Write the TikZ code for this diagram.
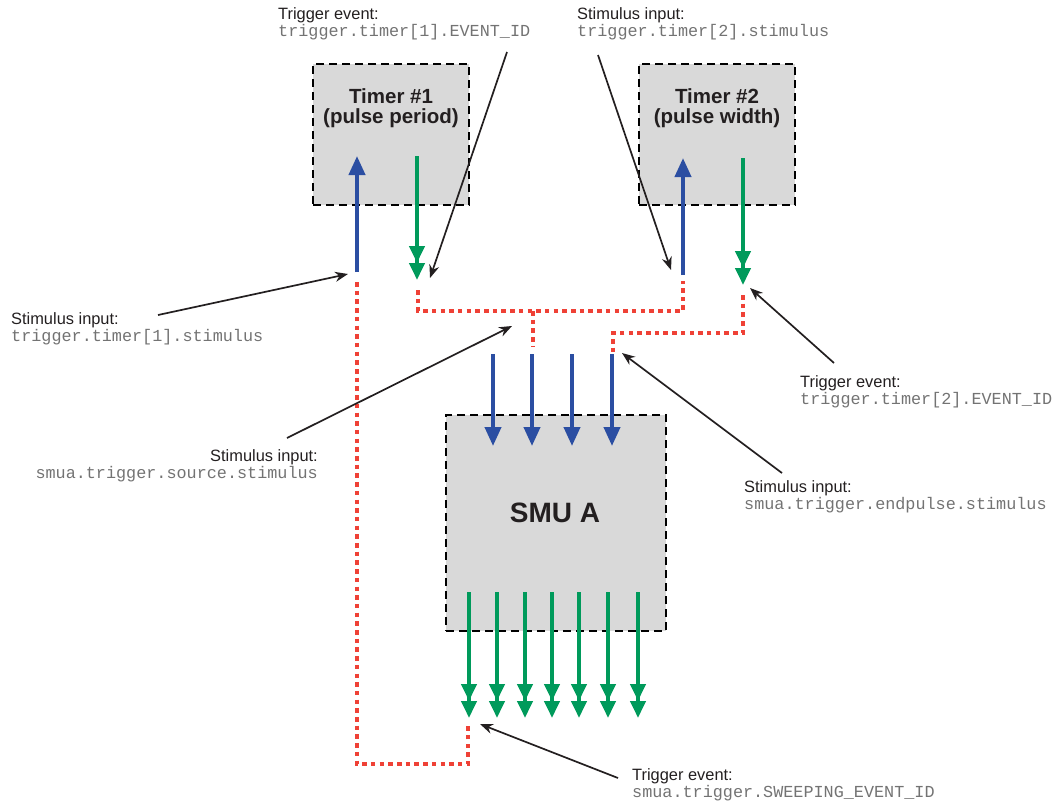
\documentclass[tikz,border=0pt]{standalone}
\usepackage{fontspec}
\setmainfont{Liberation Sans}
\setmonofont{Liberation Mono}
\usetikzlibrary{arrows.meta}
\definecolor{tblue}{HTML}{2B4EA2}
\definecolor{tgreen}{HTML}{009A5B}
\definecolor{tred}{HTML}{EF4136}
\definecolor{tgray}{HTML}{D9D9D9}
\definecolor{ttext}{HTML}{231F20}
\definecolor{tmono}{HTML}{737373}
\newcommand\monolbl[1]{{\fontsize{16.8}{15.5}\ttfamily\color{tmono}#1}}
\begin{document}
\begin{tikzpicture}[x=1pt,y=-1pt,
  box/.style={draw=black, fill=tgray, dash pattern=on 8pt off 5pt, line width=2pt, inner sep=0pt, anchor=north west},
  bluearr/.style={draw=tblue, line width=4pt, -{Triangle[width=16pt,length=19pt]}},
  greenarr/.style={draw=tgreen, line width=4pt, -{Triangle[width=15pt,length=17pt]Triangle[width=15pt,length=17pt]}},
  reddot/.style={draw=tred, line width=4.2pt, dash pattern=on 4.5pt off 4.2pt},
  note/.style={draw=ttext, line width=1.7pt, -{Stealth[length=13pt,width=10pt]}},
  lbl/.style={inner sep=0pt, align=left, font=\fontsize{16.4}{15.5}\selectfont, text=ttext},
  boxtitle/.style={inner sep=0pt, align=center, anchor=base, font=\fontsize{20.5}{20}\selectfont\bfseries, text=ttext}]
\useasboundingbox (0,0) rectangle (1054,804);

% boxes
\node[box, minimum width=156pt, minimum height=141pt] (timer1) at (312,63) {};
\node[box, minimum width=156pt, minimum height=141pt] (timer2) at (638,63) {};
\node[box, minimum width=220pt, minimum height=216pt] (smu) at (445,414) {};
\node[boxtitle] (timer1title) at (391,123) {Timer \#1\\(pulse period)};
\node[boxtitle] (timer2title) at (717,123) {Timer \#2\\(pulse width)};
\node[boxtitle, font=\fontsize{28}{30}\selectfont\bfseries] (smutitle) at (555,522) {SMU A};

% timer arrows
\coordinate (t1in) at (357,272); \coordinate (t1intip) at (357,156);
\coordinate (t1out) at (417,156); \coordinate (t1outtip) at (417,280);
\coordinate (t2in) at (683,275); \coordinate (t2intip) at (683,158);
\coordinate (t2out) at (743,158); \coordinate (t2outtip) at (743,285);
\draw[bluearr] (t1in) -- (t1intip);
\draw[greenarr] (t1out) -- (t1outtip);
\draw[bluearr] (t2in) -- (t2intip);
\draw[greenarr] (t2out) -- (t2outtip);

% SMU inputs and outputs
\foreach \x [count=\i] in {493,532,572,612} {
  \coordinate (smuin\i) at (\x,354); \coordinate (smuintip\i) at (\x,446);
  \draw[bluearr] (smuin\i) -- (smuintip\i);
}
\foreach \x [count=\i] in {469,497,525,552,579,608,638} {
  \coordinate (smuout\i) at (\x,592); \coordinate (smuouttip\i) at (\x,718);
  \draw[greenarr] (smuout\i) -- (smuouttip\i);
}

% red dotted trigger links
\coordinate (r1a) at (357,282); \coordinate (r1b) at (357,764);
\coordinate (r1c) at (468,764); \coordinate (r1d) at (468,725);
\draw[reddot] (r1a) -- (r1b) -- (r1c) -- (r1d);
\coordinate (r2a) at (418,290); \coordinate (r2b) at (418,311);
\coordinate (r2c) at (683,311); \coordinate (r2d) at (683,281);
\draw[reddot] (r2a) -- (r2b) -- (r2c) -- (r2d);
\coordinate (r3a) at (533,311); \coordinate (r3b) at (533,347);
\draw[reddot] (r3a) -- (r3b);
\coordinate (r4a) at (743,295); \coordinate (r4b) at (743,333);
\coordinate (r4c) at (613,333); \coordinate (r4d) at (613,352);
\draw[reddot] (r4a) -- (r4b) -- (r4c) -- (r4d);

% labels (anchor at the baseline of the last line)
\node[lbl, anchor=base west] (lab1) at (278,36) {Trigger event:\\\monolbl{trigger.timer[1].EVENT\_ID}};
\node[lbl, anchor=base west] (lab2) at (577,36) {Stimulus input:\\\monolbl{trigger.timer[2].stimulus}};
\node[lbl, anchor=base west] (lab3) at (11,341) {Stimulus input:\\\monolbl{trigger.timer[1].stimulus}};
\node[lbl, anchor=base east, align=right] (lab4) at (318,478) {Stimulus input:\\\monolbl{smua.trigger.source.stimulus}};
\node[lbl, anchor=base west] (lab5) at (800,404) {Trigger event:\\\monolbl{trigger.timer[2].EVENT\_ID}};
\node[lbl, anchor=base west] (lab6) at (744,509) {Stimulus input:\\\monolbl{smua.trigger.endpulse.stimulus}};
\node[lbl, anchor=base west] (lab7) at (632,797) {Trigger event:\\\monolbl{smua.trigger.SWEEPING\_EVENT\_ID}};

% annotation arrows
\coordinate (a1s) at (507,52);  \coordinate (a1e) at (430,278);
\coordinate (a2s) at (598,55);  \coordinate (a2e) at (671,270);
\coordinate (a3s) at (158,315); \coordinate (a3e) at (348,274);
\coordinate (a4s) at (287,438); \coordinate (a4e) at (512,326);
\coordinate (a5s) at (834,363); \coordinate (a5e) at (750,288);
\coordinate (a6s) at (782,473); \coordinate (a6e) at (622,353);
\coordinate (a7s) at (618,778); \coordinate (a7e) at (480,724);
\foreach \k in {1,...,7} { \draw[note] (a\k s) -- (a\k e); }
\end{tikzpicture}
\end{document}
